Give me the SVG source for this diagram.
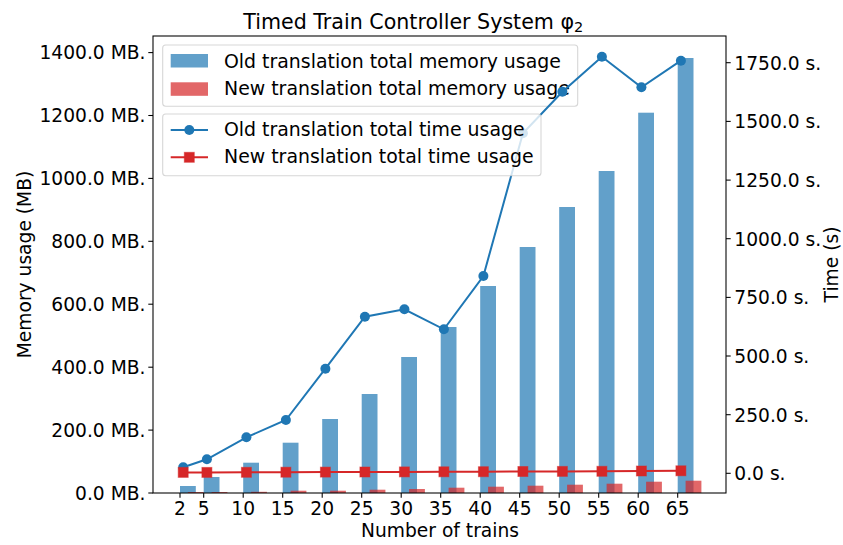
<svg xmlns="http://www.w3.org/2000/svg" width="843" height="545" viewBox="0 0 843 545">
<style>
text{font-family:"DejaVu Sans","Liberation Sans",sans-serif;fill:#000}
.t{font-size:18.67px}
.lt{font-size:18.9px}
.yl{text-anchor:end}
.xl{text-anchor:middle}
.bo{fill:#1f77b4;fill-opacity:0.7}
.bn{fill:#d62728;fill-opacity:0.7}
.tick{stroke:#000;stroke-width:1.07}
.leg{fill:#fff;fill-opacity:0.8;stroke:#ccc;stroke-opacity:0.8;stroke-width:1.07}
.lo{fill:none;stroke:#1f77b4;stroke-width:2}
.ln{fill:none;stroke:#d62728;stroke-width:2}
</style>
<defs>
<circle id="dot" r="5" fill="#1f77b4"/>
<rect id="sq" x="-5" y="-5" width="10" height="10" fill="#d62728" stroke="#d62728" stroke-opacity="0.5" stroke-width="1"/>
</defs>
<rect width="843" height="545" fill="#fff"/>

<g id="bars-old">
<rect class="bo" x="180" y="486" width="15.8" height="7"/>
<rect class="bo" x="203.7" y="477" width="15.8" height="16"/>
<rect class="bo" x="243.2" y="462.7" width="15.8" height="30.3"/>
<rect class="bo" x="282.7" y="442.7" width="15.8" height="50.3"/>
<rect class="bo" x="322.2" y="419" width="15.8" height="74"/>
<rect class="bo" x="361.7" y="394" width="15.8" height="99"/>
<rect class="bo" x="401.2" y="357" width="15.8" height="136"/>
<rect class="bo" x="440.7" y="327" width="15.8" height="166"/>
<rect class="bo" x="480.2" y="286" width="15.8" height="207"/>
<rect class="bo" x="519.7" y="247" width="15.8" height="246"/>
<rect class="bo" x="559.2" y="207" width="15.8" height="286"/>
<rect class="bo" x="598.7" y="171" width="15.8" height="322"/>
<rect class="bo" x="638.2" y="112.7" width="15.8" height="380.3"/>
<rect class="bo" x="677.7" y="58" width="15.8" height="435"/>
</g>
<g id="bars-new">
<rect class="bn" x="187.9" y="492" width="15.8" height="1"/>
<rect class="bn" x="211.6" y="492" width="15.8" height="1"/>
<rect class="bn" x="251.1" y="491.8" width="15.8" height="1.2"/>
<rect class="bn" x="290.6" y="490.7" width="15.8" height="2.3"/>
<rect class="bn" x="330.1" y="490.7" width="15.8" height="2.3"/>
<rect class="bn" x="369.6" y="489.7" width="15.8" height="3.3"/>
<rect class="bn" x="409.1" y="489" width="15.8" height="4"/>
<rect class="bn" x="448.6" y="487.7" width="15.8" height="5.3"/>
<rect class="bn" x="488.1" y="486.7" width="15.8" height="6.3"/>
<rect class="bn" x="527.6" y="485.7" width="15.8" height="7.3"/>
<rect class="bn" x="567.1" y="484.7" width="15.8" height="8.3"/>
<rect class="bn" x="606.6" y="483.7" width="15.8" height="9.3"/>
<rect class="bn" x="646.1" y="481.7" width="15.8" height="11.3"/>
<rect class="bn" x="685.6" y="480.7" width="15.8" height="12.3"/>
</g>

<g id="axis-left">
<line class="tick" x1="148.3" y1="493" x2="153" y2="493"/>
<line class="tick" x1="148.3" y1="430.1" x2="153" y2="430.1"/>
<line class="tick" x1="148.3" y1="367.2" x2="153" y2="367.2"/>
<line class="tick" x1="148.3" y1="304.2" x2="153" y2="304.2"/>
<line class="tick" x1="148.3" y1="241.3" x2="153" y2="241.3"/>
<line class="tick" x1="148.3" y1="178.4" x2="153" y2="178.4"/>
<line class="tick" x1="148.3" y1="115.5" x2="153" y2="115.5"/>
<line class="tick" x1="148.3" y1="52.6" x2="153" y2="52.6"/>
<text class="t yl" x="145.5" y="499.8">0.0 MB.</text>
<text class="t yl" x="145.5" y="436.9">200.0 MB.</text>
<text class="t yl" x="145.5" y="374">400.0 MB.</text>
<text class="t yl" x="145.5" y="311">600.0 MB.</text>
<text class="t yl" x="145.5" y="248.1">800.0 MB.</text>
<text class="t yl" x="145.5" y="185.2">1000.0 MB.</text>
<text class="t yl" x="145.5" y="122.3">1200.0 MB.</text>
<text class="t yl" x="145.5" y="59.4">1400.0 MB.</text>
<text class="t xl" transform="translate(30.5,264.5) rotate(-90)">Memory usage (MB)</text>
</g>

<g id="axis-bottom">
<g class="tick">
<line x1="180" y1="493" x2="180" y2="497.7"/>
<line x1="203.7" y1="493" x2="203.7" y2="497.7"/>
<line x1="243.2" y1="493" x2="243.2" y2="497.7"/>
<line x1="282.7" y1="493" x2="282.7" y2="497.7"/>
<line x1="322.2" y1="493" x2="322.2" y2="497.7"/>
<line x1="361.7" y1="493" x2="361.7" y2="497.7"/>
<line x1="401.2" y1="493" x2="401.2" y2="497.7"/>
<line x1="440.7" y1="493" x2="440.7" y2="497.7"/>
<line x1="480.2" y1="493" x2="480.2" y2="497.7"/>
<line x1="519.7" y1="493" x2="519.7" y2="497.7"/>
<line x1="559.2" y1="493" x2="559.2" y2="497.7"/>
<line x1="598.7" y1="493" x2="598.7" y2="497.7"/>
<line x1="638.2" y1="493" x2="638.2" y2="497.7"/>
<line x1="677.7" y1="493" x2="677.7" y2="497.7"/>
</g>
<text class="t xl" x="180" y="515">2</text>
<text class="t xl" x="203.7" y="515">5</text>
<text class="t xl" x="243.2" y="515">10</text>
<text class="t xl" x="282.7" y="515">15</text>
<text class="t xl" x="322.2" y="515">20</text>
<text class="t xl" x="361.7" y="515">25</text>
<text class="t xl" x="401.2" y="515">30</text>
<text class="t xl" x="440.7" y="515">35</text>
<text class="t xl" x="480.2" y="515">40</text>
<text class="t xl" x="519.7" y="515">45</text>
<text class="t xl" x="559.2" y="515">50</text>
<text class="t xl" x="598.7" y="515">55</text>
<text class="t xl" x="638.2" y="515">60</text>
<text class="t xl" x="677.7" y="515">65</text>
<text class="t xl" x="440" y="536.5">Number of trains</text>
</g>

<g id="legend-memory">
<rect class="leg" x="162.7" y="45" width="415" height="61.3" rx="3"/>
<rect class="bo" x="170.7" y="54" width="37.3" height="13.5"/>
<rect class="bn" x="170.7" y="82.3" width="37.3" height="13.5"/>
<text class="lt" x="224" y="67.7">Old translation total memory usage</text>
<text class="lt" x="224" y="95">New translation total memory usage</text>
</g>

<g id="connectors">
<polyline class="lo" points="183.2,467.3 206.9,459.3 246.4,437.3 285.9,420 325.4,368.7 364.9,316.7 404.4,309.3 443.9,329.3 483.4,276 522.9,133.3 562.4,91.7 601.9,56.7 641.4,87.3 680.9,60.7"/>
<g id="old-time-markers">
<use href="#dot" x="183.2" y="467.3"/><use href="#dot" x="206.9" y="459.3"/><use href="#dot" x="246.4" y="437.3"/><use href="#dot" x="285.9" y="420"/><use href="#dot" x="325.4" y="368.7"/><use href="#dot" x="364.9" y="316.7"/><use href="#dot" x="404.4" y="309.3"/><use href="#dot" x="443.9" y="329.3"/><use href="#dot" x="483.4" y="276"/><use href="#dot" x="522.9" y="133.3"/><use href="#dot" x="562.4" y="91.7"/><use href="#dot" x="601.9" y="56.7"/><use href="#dot" x="641.4" y="87.3"/><use href="#dot" x="680.9" y="60.7"/>
</g>
<polyline class="ln" points="183.2,472.4 206.9,472.4 246.4,472.3 285.9,472.2 325.4,472.1 364.9,472 404.4,471.9 443.9,471.8 483.4,471.7 522.9,471.5 562.4,471.4 601.9,471.3 641.4,471 680.9,470.8"/>
<g id="new-time-markers">
<use href="#sq" x="183.2" y="472.4"/><use href="#sq" x="206.9" y="472.4"/><use href="#sq" x="246.4" y="472.3"/><use href="#sq" x="285.9" y="472.2"/><use href="#sq" x="325.4" y="472.1"/><use href="#sq" x="364.9" y="472"/><use href="#sq" x="404.4" y="471.9"/><use href="#sq" x="443.9" y="471.8"/><use href="#sq" x="483.4" y="471.7"/><use href="#sq" x="522.9" y="471.5"/><use href="#sq" x="562.4" y="471.4"/><use href="#sq" x="601.9" y="471.3"/><use href="#sq" x="641.4" y="471"/><use href="#sq" x="680.9" y="470.8"/>
</g>
</g>

<g id="axis-right">
<line class="tick" x1="726" y1="473.3" x2="730.7" y2="473.3"/>
<line class="tick" x1="726" y1="414.7" x2="730.7" y2="414.7"/>
<line class="tick" x1="726" y1="356" x2="730.7" y2="356"/>
<line class="tick" x1="726" y1="297.4" x2="730.7" y2="297.4"/>
<line class="tick" x1="726" y1="238.7" x2="730.7" y2="238.7"/>
<line class="tick" x1="726" y1="180.1" x2="730.7" y2="180.1"/>
<line class="tick" x1="726" y1="121.4" x2="730.7" y2="121.4"/>
<line class="tick" x1="726" y1="62.7" x2="730.7" y2="62.7"/>
<text class="t" x="734.3" y="480.1">0.0 s.</text>
<text class="t" x="734.3" y="421.5">250.0 s.</text>
<text class="t" x="734.3" y="362.8">500.0 s.</text>
<text class="t" x="734.3" y="304.2">750.0 s.</text>
<text class="t" x="734.3" y="245.5">1000.0 s.</text>
<text class="t" x="734.3" y="186.9">1250.0 s.</text>
<text class="t" x="734.3" y="128.2">1500.0 s.</text>
<text class="t" x="734.3" y="69.5">1750.0 s.</text>
<text class="t xl" transform="translate(838,264.5) rotate(-90)">Time (s)</text>
</g>

<rect id="frame" x="153" y="36" width="573" height="457" fill="none" stroke="#000" stroke-width="1.07"/>

<g id="legend-time">
<rect class="leg" x="162.7" y="114" width="378.3" height="61.7" rx="3"/>
<line class="lo" x1="170.7" y1="130" x2="208" y2="130"/>
<use href="#dot" x="189.3" y="130"/>
<line class="ln" x1="170.7" y1="157.3" x2="208" y2="157.3"/>
<use href="#sq" x="189.3" y="157.3"/>
<text class="lt" x="224" y="136">Old translation total time usage</text>
<text class="lt" x="224" y="162.7">New translation total time usage</text>
</g>

<text id="title" x="243.3" y="28.5" style="font-size:20.6px">Timed Train Controller System φ<tspan dy="3.5" style="font-size:14.5px">2</tspan></text>
</svg>
